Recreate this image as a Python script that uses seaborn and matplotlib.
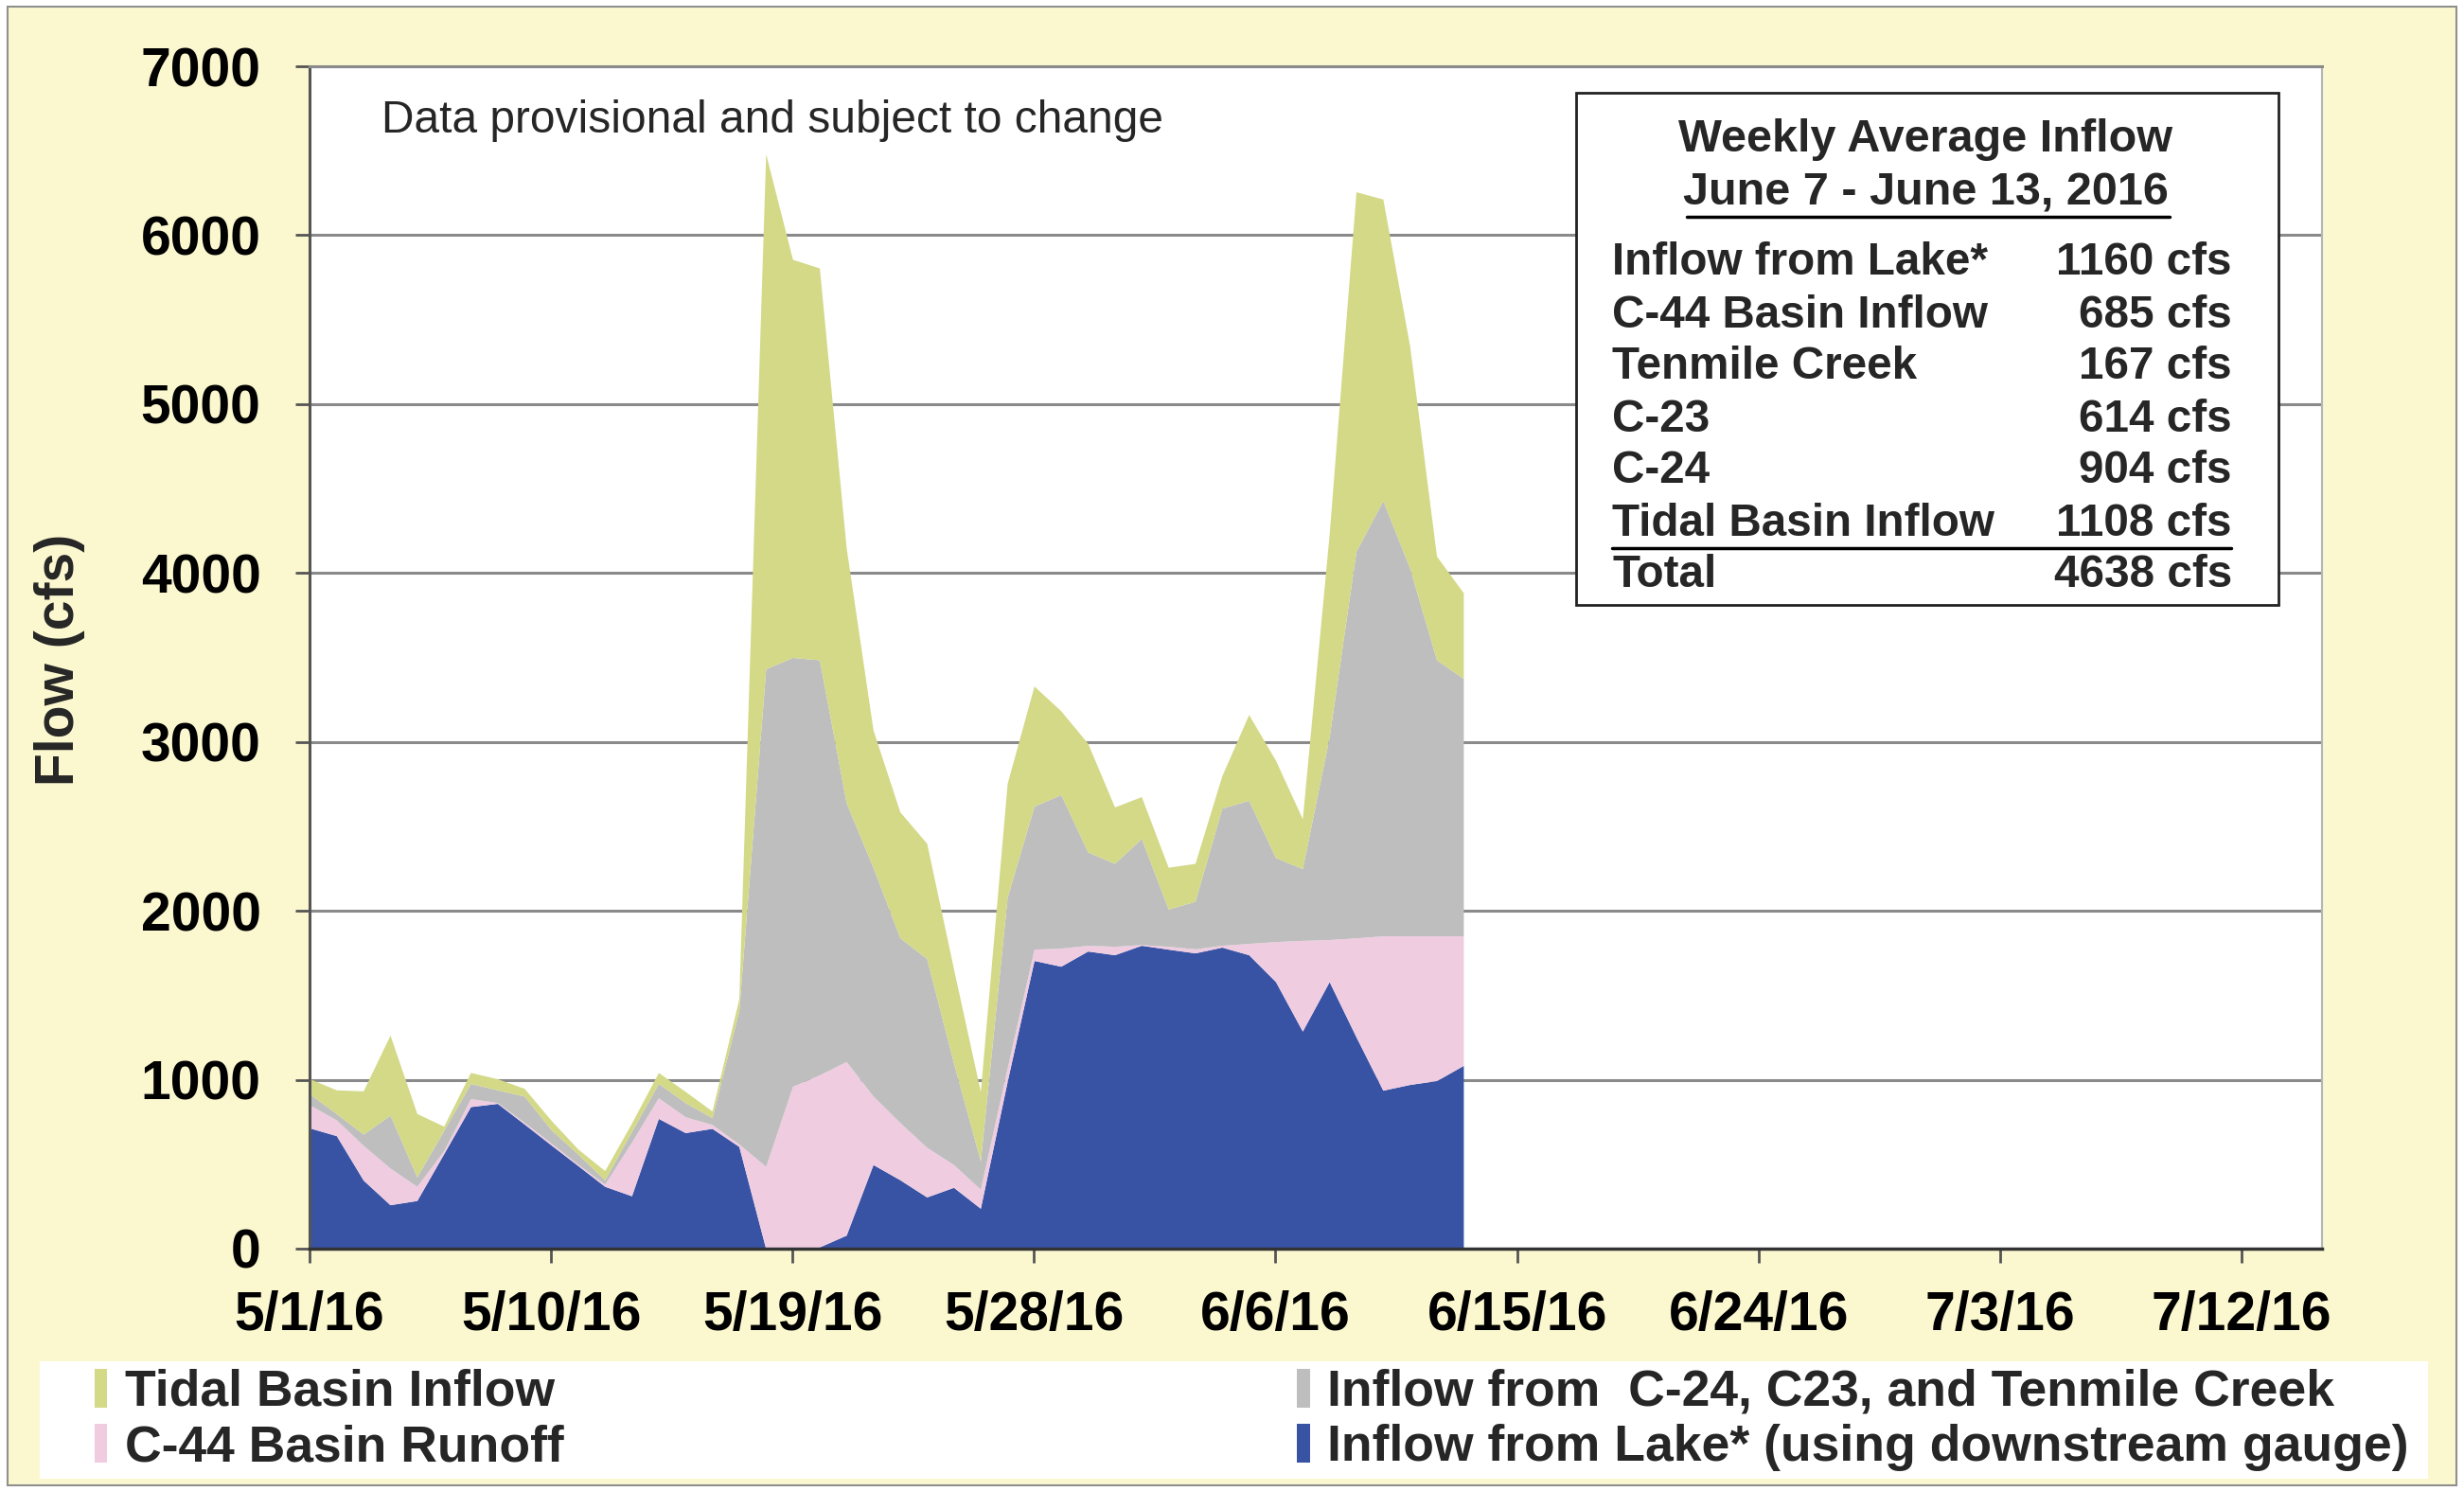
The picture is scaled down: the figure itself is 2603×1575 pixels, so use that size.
import pandas as pd
import numpy as np
import seaborn as sns
import matplotlib.pyplot as plt
from matplotlib.patches import Rectangle
from matplotlib.lines import Line2D

# daily flows (cfs), 5/1/16 - 6/13/16
lake = [715, 669, 406, 260, 285, 562, 841, 860, 738, 614, 492, 369, 313, 771, 687,
        712, 605, 0, 0, 10, 80, 498, 408, 306, 363, 239, 990, 1706, 1672, 1762,
        1740, 1796, 1773, 1751, 1785, 1740, 1581, 1288, 1581, 1254, 938, 972, 995, 1085]
c44_runoff = [137, 93, 206, 217, 84, 18, 47, 5, 10, 11, 8, 13, 318, 122, 94,
              23, 15, 487, 961, 1019, 1028, 406, 339, 294, 135, 113, 80, 67, 107, 34,
              50, 4, 17, 24, 11, 67, 237, 537, 249, 586, 914, 880, 857, 767]
c24_c23_tenmile = [64, 38, 66, 313, 56, 120, 90, 75, 155, 80, 60, 25, 63, 85, 84,
                   40, 790, 2946, 2539, 2457, 1532, 1353, 1094, 1117, 602, 168, 1010, 847, 909, 553,
                   491, 628, 221, 281, 812, 847, 497, 425, 1200, 2289, 2577, 2177, 1634, 1524]
tidal_basin = [90, 140, 256, 474, 375, 25, 65, 66, 46, 55, 30, 55, 49, 65, 66,
               40, 70, 3049, 2357, 2320, 1510, 814, 745, 683, 557, 410, 675, 711, 496, 643,
               334, 248, 247, 225, 192, 508, 576, 295, 1200, 2128, 1785, 1314, 614, 507]

series_labels = ['Inflow from Lake* (using downstream gauge)', 'C-44 Basin Runoff',
                 'Inflow from  C-24, C23, and Tenmile Creek', 'Tidal Basin Inflow']
summary_rows = [('Inflow from Lake*', '1160 cfs'),
                ('C-44 Basin Inflow', '685 cfs'),
                ('Tenmile Creek', '167 cfs'),
                ('C-23', '614 cfs'),
                ('C-24', '904 cfs'),
                ('Tidal Basin Inflow', '1108 cfs'),
                ('Total', '4638 cfs')]

dates = pd.date_range('2016-05-01', periods=len(lake), freq='D')
tick_dates = pd.date_range('2016-05-01', '2016-07-12', freq='9D')
tick_labels = [f'{d.month}/{d.day}/16' for d in tick_dates]
y_ticks = list(range(0, 8000, 1000))

df = pd.DataFrame({'date': dates, 'lake': lake, 'c44': c44_runoff,
                   'canals': c24_c23_tenmile, 'tidal': tidal_basin})
colors = ['#3953a4', '#f0cce1', '#bebebe', '#d3d987']

sns.set_theme(style='white')
plt.rcParams['font.family'] = ['Liberation Sans', 'DejaVu Sans']

W, H = 2603, 1575
fig = plt.figure(figsize=(W / 100, H / 100), dpi=100)
fig.patch.set_facecolor('white')

# cream panel with thin grey border
fig.add_artist(Rectangle((8 / W, 1 - 1569 / H), (2595 - 8) / W, (1569 - 7) / H,
                         transform=fig.transFigure, facecolor='#fbf8cf',
                         edgecolor='#8f8f8f', lw=1.5, zorder=-1))

ax = fig.add_axes([327 / W, 1 - 1319 / H, 2126 / W, 1249 / H])
ax.set_facecolor('white')
polys = ax.stackplot(df['date'], df['lake'], df['c44'], df['canals'], df['tidal'],
                     colors=colors, labels=series_labels, lw=0)

ax.set_xlim(pd.Timestamp('2016-05-01'), pd.Timestamp('2016-07-15'))
ax.set_ylim(0, 7000)
ax.set_xticks(tick_dates)
ax.set_xticklabels(tick_labels)
ax.set_yticks(y_ticks)
ax.set_yticklabels([str(v) for v in y_ticks])

ax.set_axisbelow(True)
ax.yaxis.grid(True, color='#8a8a8a', lw=2.2)
ax.xaxis.grid(False)

for side, col, lw in [('left', '#555555', 2.2), ('bottom', '#333333', 2.5),
                      ('top', '#8a8a8a', 2.2), ('right', '#b5b5b5', 1.5)]:
    ax.spines[side].set_visible(True)
    ax.spines[side].set_color(col)
    ax.spines[side].set_linewidth(lw)

ax.tick_params(axis='both', bottom=True, left=True, direction='out', length=11,
               width=2, color='#555555', labelsize=41, labelcolor='black')
ax.tick_params(axis='x', pad=21)
ax.tick_params(axis='y', pad=26)
plt.setp(ax.get_xticklabels() + ax.get_yticklabels(), fontweight='bold')

fig.text(63 / W, 1 - 697 / H, 'Flow (cfs)', rotation=90, ha='center', va='center',
         fontsize=41, fontweight='bold')
fig.text(403 / W, 1 - 128 / H, 'Data provisional and subject to change',
         ha='left', va='center', fontsize=34.5)

# weekly summary box
fig.add_artist(Rectangle((1665 / W, 1 - 639 / H), (2407 - 1665) / W, (639 - 98) / H,
                         transform=fig.transFigure, facecolor='white',
                         edgecolor='#222222', lw=2, zorder=2))
fig.text(2034 / W, 1 - 148 / H, 'Weekly Average Inflow', ha='center', va='center',
         fontsize=35, fontweight='bold', zorder=3)
fig.text(2034 / W, 1 - 204 / H, 'June 7 - June 13, 2016', ha='center', va='center',
         fontsize=35, fontweight='bold', zorder=3)
fig.add_artist(Line2D([1782 / W, 2292 / W], [1 - 229 / H, 1 - 229 / H],
                      transform=fig.transFigure, color='black', lw=2.5, zorder=3))
row_y = [277, 333, 388, 443, 498, 553, 608]
for (name, val), yy in zip(summary_rows, row_y):
    fig.text(1703 / W, 1 - yy / H, name, ha='left', va='center',
             fontsize=34.3, fontweight='bold', zorder=3)
    fig.text(2358 / W, 1 - yy / H, val, ha='right', va='center',
             fontsize=34.3, fontweight='bold', zorder=3)
fig.add_artist(Line2D([1703 / W, 2357 / W], [1 - 579 / H, 1 - 579 / H],
                      transform=fig.transFigure, color='black', lw=2.5, zorder=3))

# legend on a white strip: column-wise -> tidal, c44 | canals, lake
fig.add_artist(Rectangle((42 / W, 1 - 1562 / H), (2565 - 42) / W, 124 / H,
                         transform=fig.transFigure, facecolor='white',
                         edgecolor='none', zorder=2))
handles = [polys[3], polys[1], polys[2], polys[0]]
labels = [series_labels[3], series_labels[1], series_labels[2], series_labels[0]]
leg = fig.legend(handles, labels, ncol=2, mode='expand', loc='center',
                 bbox_to_anchor=(100 / W, 1 - 1560 / H, (2545 - 100) / W, 120 / H),
                 prop={'size': 38.5, 'weight': 'bold'}, frameon=False,
                 handlelength=0.25, handleheight=0.8, handletextpad=0.35,
                 labelspacing=0.15, borderpad=0.0, borderaxespad=0)
leg.set_zorder(3)

fig.savefig('out.png', dpi=100, facecolor=fig.get_facecolor())
